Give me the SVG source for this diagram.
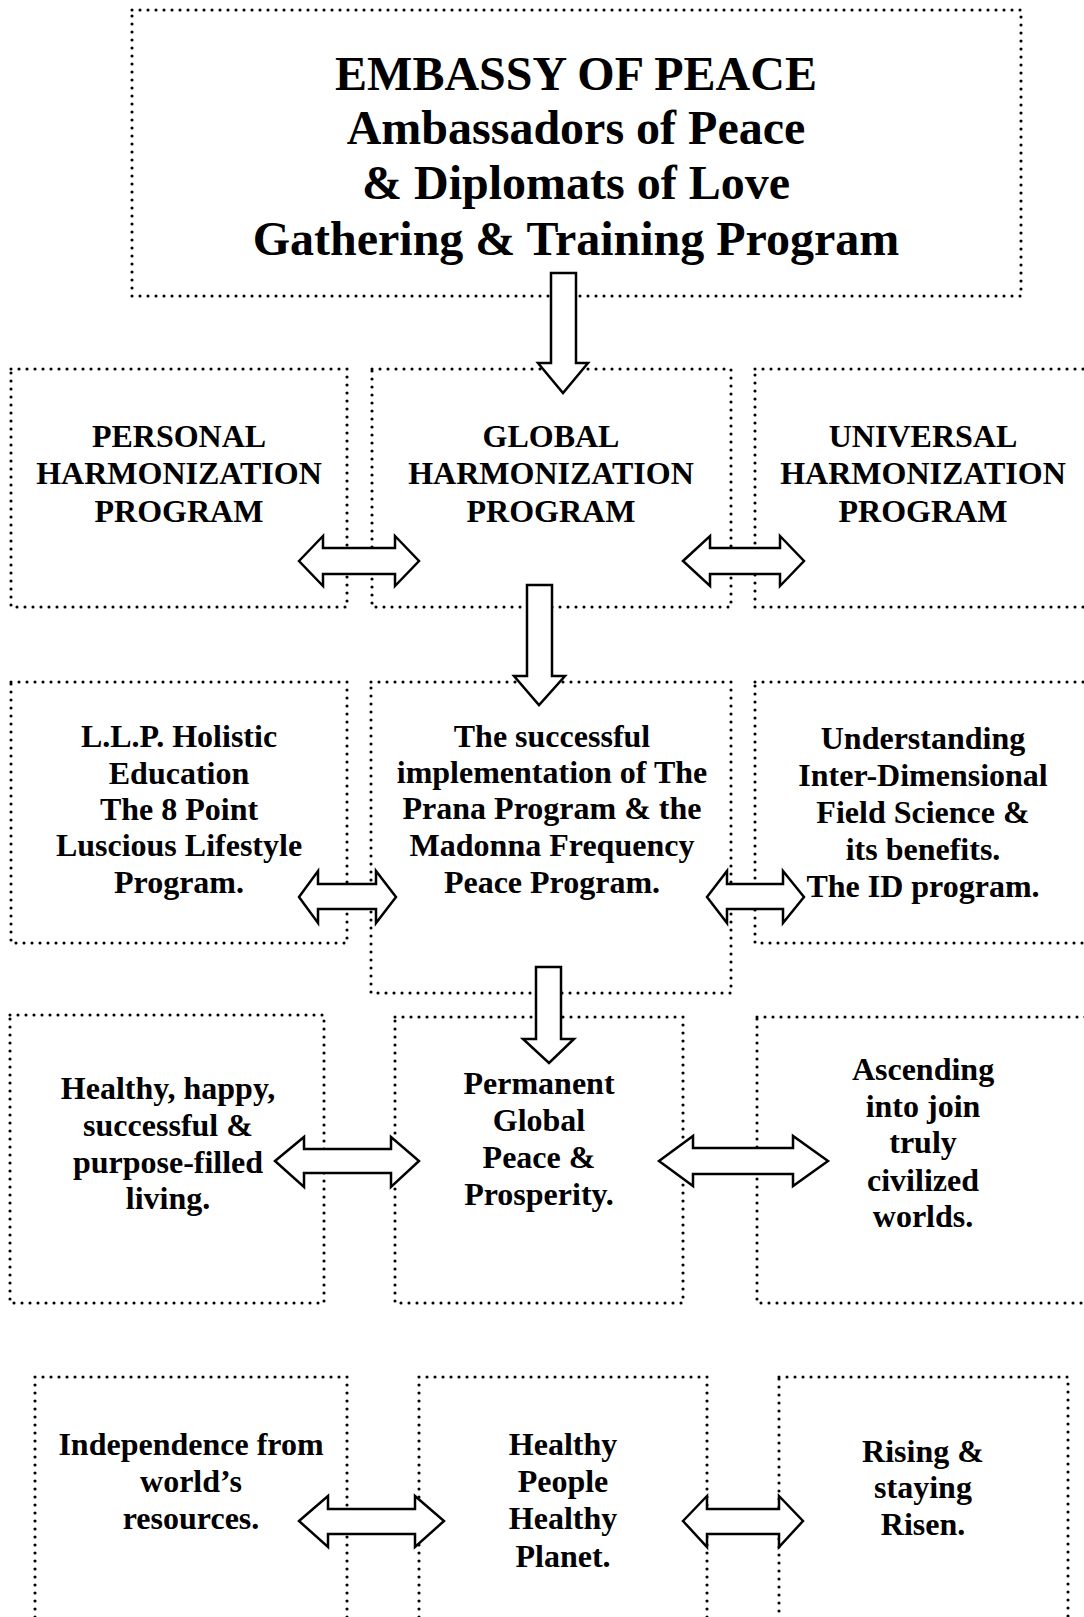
<svg xmlns="http://www.w3.org/2000/svg" width="1084" height="1617" viewBox="0 0 1084 1617">
<style>
.box{fill:none;stroke:#000;stroke-width:3.1;stroke-linecap:round;stroke-dasharray:0 8}
.t{font-family:"Liberation Serif","Times New Roman",serif;font-weight:bold;font-size:32px;fill:#000;text-anchor:middle}
.title{font-size:48px}
.arr{fill:#fff;stroke:#000;stroke-width:2.5;stroke-linejoin:miter}
</style>
<rect width="1084" height="1617" fill="#fff"/>
<g id="n-top">
<rect class="box" x="132" y="10" width="889" height="286"/>
<text class="t title" x="576" y="90">EMBASSY OF PEACE</text>
<text class="t title" x="576" y="144">Ambassadors of Peace</text>
<text class="t title" x="576" y="199">&amp; Diplomats of Love</text>
<text class="t title" x="576" y="255">Gathering &amp; Training Program</text>
</g>
<g id="n-personal">
<rect class="box" x="11" y="369" width="336" height="238"/>
<text class="t" x="179" y="447">PERSONAL</text>
<text class="t" x="179" y="484">HARMONIZATION</text>
<text class="t" x="179" y="522">PROGRAM</text>
</g>
<g id="n-global">
<rect class="box" x="372" y="369" width="359" height="238"/>
<text class="t" x="551" y="447">GLOBAL</text>
<text class="t" x="551" y="484">HARMONIZATION</text>
<text class="t" x="551" y="522">PROGRAM</text>
</g>
<g id="n-universal">
<rect class="box" x="755" y="369" width="345" height="238"/>
<text class="t" x="923" y="447">UNIVERSAL</text>
<text class="t" x="923" y="484">HARMONIZATION</text>
<text class="t" x="923" y="522">PROGRAM</text>
</g>
<g id="n-llp">
<rect class="box" x="11" y="682" width="336" height="261"/>
<text class="t" x="179" y="747">L.L.P. Holistic</text>
<text class="t" x="179" y="784">Education</text>
<text class="t" x="179" y="820">The 8 Point</text>
<text class="t" x="179" y="856">Luscious Lifestyle</text>
<text class="t" x="179" y="893">Program.</text>
</g>
<g id="n-prana">
<rect class="box" x="371" y="682" width="360" height="311"/>
<text class="t" x="552" y="747">The successful</text>
<text class="t" x="552" y="783">implementation of The</text>
<text class="t" x="552" y="819">Prana Program &amp; the</text>
<text class="t" x="552" y="856">Madonna Frequency</text>
<text class="t" x="552" y="893">Peace Program.</text>
</g>
<g id="n-id">
<rect class="box" x="755" y="682" width="345" height="261"/>
<text class="t" x="923" y="749">Understanding</text>
<text class="t" x="923" y="786">Inter-Dimensional</text>
<text class="t" x="923" y="823">Field Science &amp;</text>
<text class="t" x="923" y="860">its benefits.</text>
<text class="t" x="923" y="897">The ID program.</text>
</g>
<g id="n-healthy">
<rect class="box" x="10" y="1015" width="314" height="288"/>
<text class="t" x="168" y="1099">Healthy, happy,</text>
<text class="t" x="168" y="1136">successful &amp;</text>
<text class="t" x="168" y="1173">purpose-filled</text>
<text class="t" x="168" y="1209">living.</text>
</g>
<g id="n-peace">
<rect class="box" x="395" y="1017" width="288" height="286"/>
<text class="t" x="539" y="1094">Permanent</text>
<text class="t" x="539" y="1131">Global</text>
<text class="t" x="539" y="1168">Peace &amp;</text>
<text class="t" x="539" y="1205">Prosperity.</text>
</g>
<g id="n-ascending">
<rect class="box" x="757" y="1017" width="343" height="286"/>
<text class="t" x="923" y="1080">Ascending</text>
<text class="t" x="923" y="1117">into join</text>
<text class="t" x="923" y="1153">truly</text>
<text class="t" x="923" y="1191">civilized</text>
<text class="t" x="923" y="1227">worlds.</text>
</g>
<g id="n-independence">
<rect class="box" x="35" y="1377" width="312" height="260"/>
<text class="t" x="191" y="1455">Independence from</text>
<text class="t" x="191" y="1492">world’s</text>
<text class="t" x="191" y="1529">resources.</text>
</g>
<g id="n-planet">
<rect class="box" x="419" y="1377" width="288" height="260"/>
<text class="t" x="563" y="1455">Healthy</text>
<text class="t" x="563" y="1492">People</text>
<text class="t" x="563" y="1529">Healthy</text>
<text class="t" x="563" y="1567">Planet.</text>
</g>
<g id="n-risen">
<rect class="box" x="779" y="1377" width="289" height="260"/>
<text class="t" x="923" y="1462">Rising &amp;</text>
<text class="t" x="923" y="1498">staying</text>
<text class="t" x="923" y="1535">Risen.</text>
</g>
<g id="connectors">
<path class="arr" d="M551,273 L576,273 L576,363 L588,363 L563,393 L538,363 L551,363 Z"/>
<path class="arr" d="M527,585 L552,585 L552,676 L565,676 L539,705 L514,676 L527,676 Z"/>
<path class="arr" d="M536,967 L561,967 L561,1039 L574,1039 L549,1063 L523,1039 L536,1039 Z"/>
<path class="arr" d="M299,561 L323,536 L323,548 L395,548 L395,536 L419,561 L395,586 L395,574 L323,574 L323,586 Z"/>
<path class="arr" d="M683,561 L710,536 L710,548 L780,548 L780,536 L804,561 L780,586 L780,574 L710,574 L710,586 Z"/>
<path class="arr" d="M299,897 L318,871 L318,884 L376,884 L376,871 L396,897 L376,923 L376,909 L318,909 L318,923 Z"/>
<path class="arr" d="M707,897 L727,871 L727,884 L783,884 L783,871 L804,897 L783,923 L783,909 L727,909 L727,923 Z"/>
<path class="arr" d="M275,1161 L304,1137 L304,1149 L391,1149 L391,1137 L419,1161 L391,1187 L391,1173 L304,1173 L304,1187 Z"/>
<path class="arr" d="M659,1161 L693,1136 L693,1148 L793,1148 L793,1136 L828,1161 L793,1186 L793,1174 L693,1174 L693,1186 Z"/>
<path class="arr" d="M299,1521 L328,1496 L328,1509 L415,1509 L415,1496 L444,1521 L415,1547 L415,1534 L328,1534 L328,1547 Z"/>
<path class="arr" d="M683,1521 L707,1496 L707,1509 L779,1509 L779,1496 L803,1521 L779,1547 L779,1534 L707,1534 L707,1547 Z"/>
</g>
</svg>
